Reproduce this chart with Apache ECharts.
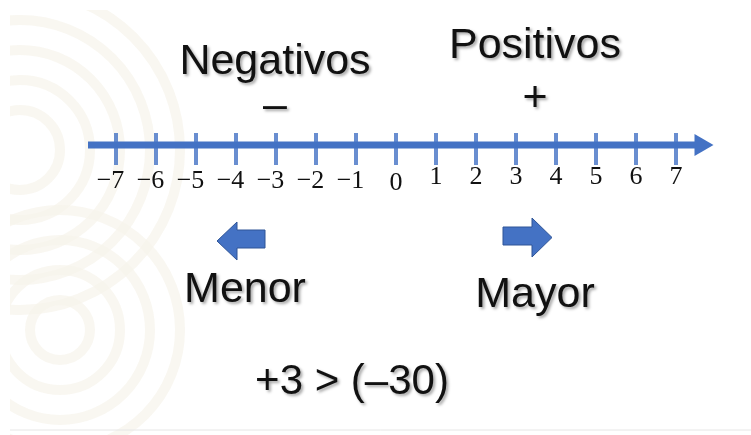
<!DOCTYPE html>
<html>
<head>
<meta charset="utf-8">
<script src="https://cdn.jsdelivr.net/npm/echarts@6/dist/echarts.min.js"></script>
<style>
  html, body { margin: 0; padding: 0; background: #ffffff; }
  #chart { width: 751px; height: 435px; }
</style>
</head>
<body>
<div id="chart"></div>
<script>
// ---- data ----
const tickValues = [-7, -6, -5, -4, -3, -2, -1, 0, 1, 2, 3, 4, 5, 6, 7];
const lineStart = -7.7;
const lineEnd = 7.7;
const headingNeg = 'Negativos';
const headingPos = 'Positivos';
const signNeg = '–';
const signPos = '+';
const wordLess = 'Menor';
const wordMore = 'Mayor';
const comparison = '+3 > (–30)';

const blue = '#4472C4';
const arrowStroke = '#2F5597';
const sansFont = '"Liberation Sans", Arial, sans-serif';
const serifFont = '"Liberation Serif", "DejaVu Serif", serif';
const shadow = {
  textShadowColor: 'rgba(0,0,0,0.35)',
  textShadowBlur: 3,
  textShadowOffsetX: 2,
  textShadowOffsetY: 2
};

function txt(text, x, y, size) {
  return {
    type: 'text', x: x, y: y, z: 20,
    style: Object.assign({
      text: text, fill: '#111', fontSize: size, fontFamily: sansFont,
      align: 'center', verticalAlign: 'middle'
    }, shadow)
  };
}

// faint decorative background arcs
const deco = [];
[[20, 150, [40, 70, 100, 130, 160]], [60, 330, [30, 60, 90, 120]]].forEach(function (c) {
  c[2].forEach(function (r) {
    deco.push({
      type: 'circle', silent: true, z: -10,
      shape: { cx: c[0], cy: c[1], r: r },
      style: { fill: 'none', stroke: '#f7f3eb', lineWidth: 10, opacity: 0.7 }
    });
  });
});
deco.push({
  type: 'rect', silent: true, z: -9,
  shape: { x: 0, y: 0, width: 10, height: 435 },
  style: { fill: '#ffffff' }
});
deco.push({
  type: 'rect', silent: true, z: -9,
  shape: { x: 0, y: 0, width: 751, height: 10 },
  style: { fill: '#ffffff' }
});
deco.push({
  type: 'line', silent: true, z: -8,
  shape: { x1: 10, y1: 430, x2: 751, y2: 430 },
  style: { stroke: '#e6e6e6', lineWidth: 1 }
});

const chart = echarts.init(document.getElementById('chart'), null, { renderer: 'canvas' });

const negStyle = { fontSize: 26, fontFamily: serifFont, color: '#111', lineHeight: 34 };

chart.setOption({
  backgroundColor: '#ffffff',
  animation: false,
  grid: [
    // label grid: its bottom edge is the number line (y = 145)
    { left: 116, right: 75, top: 100, bottom: 290 },
    // drawing grid: same scale (40 px per unit), wider extent for the arrow
    { left: 88, right: 47, top: 105, bottom: 250 }
  ],
  xAxis: [
    {
      gridIndex: 0, type: 'value', min: -7, max: 7, interval: 1,
      axisLine: { show: false },
      axisTick: { show: false },
      splitLine: { show: false },
      axisLabel: {
        margin: 19,
        interval: 0,
        showMinLabel: true,
        showMaxLabel: true,
        hideOverlap: false,
        formatter: function (v) {
          if (v < 0) return '{n|−}{d|' + Math.abs(v) + '}';
          if (v === 0) return '{z|0}';
          return '{p|' + v + '}';
        },
        rich: {
          p: { fontSize: 26, fontFamily: serifFont, color: '#111', lineHeight: 26 },
          n: negStyle,
          d: Object.assign({ padding: [0, 11, 0, 0] }, negStyle),
          z: { fontSize: 26, fontFamily: serifFont, color: '#111', lineHeight: 38 }
        }
      }
    },
    {
      gridIndex: 1, type: 'value', min: lineStart, max: lineEnd, show: false,
      splitLine: { show: false }
    }
  ],
  yAxis: [
    { gridIndex: 0, type: 'value', min: -1, max: 1, show: false },
    { gridIndex: 1, type: 'value', min: -1, max: 1, show: false }
  ],
  series: [
    {
      type: 'line', xAxisIndex: 1, yAxisIndex: 1, clip: false, z: 2,
      lineStyle: { color: blue, width: 7 },
      itemStyle: { color: blue },
      showSymbol: true,
      data: [
        { value: [lineStart, 0], symbol: 'none' },
        { value: [lineEnd, 0], symbol: 'triangle', symbolRotate: -90, symbolSize: [22, 19] }
      ]
    },
    {
      type: 'scatter', xAxisIndex: 1, yAxisIndex: 1, clip: false, z: 3,
      symbol: 'rect', symbolSize: [4, 32], symbolOffset: [0, 4],
      itemStyle: { color: blue },
      data: tickValues.map(function (v) { return [v, 0]; })
    }
  ],
  graphic: deco.concat([
    txt(headingNeg, 275, 62, 43),
    txt(headingPos, 535, 46, 43),
    txt(signNeg, 275, 106, 43),
    txt(signPos, 535, 99, 43),
    txt(wordLess, 245, 290, 43),
    txt(wordMore, 535, 295, 43),
    txt(comparison, 352, 382, 42),
    {
      type: 'polygon', z: 10,
      shape: { points: [[217, 241], [237, 222], [237, 230], [265, 230], [265, 248], [237, 248], [237, 260]] },
      style: { fill: blue, stroke: arrowStroke, lineWidth: 1 }
    },
    {
      type: 'polygon', z: 10,
      shape: { points: [[503, 227], [532, 227], [532, 218], [552, 237.5], [532, 257], [532, 245], [503, 245]] },
      style: { fill: blue, stroke: arrowStroke, lineWidth: 1 }
    }
  ])
});
</script>
</body>
</html>
